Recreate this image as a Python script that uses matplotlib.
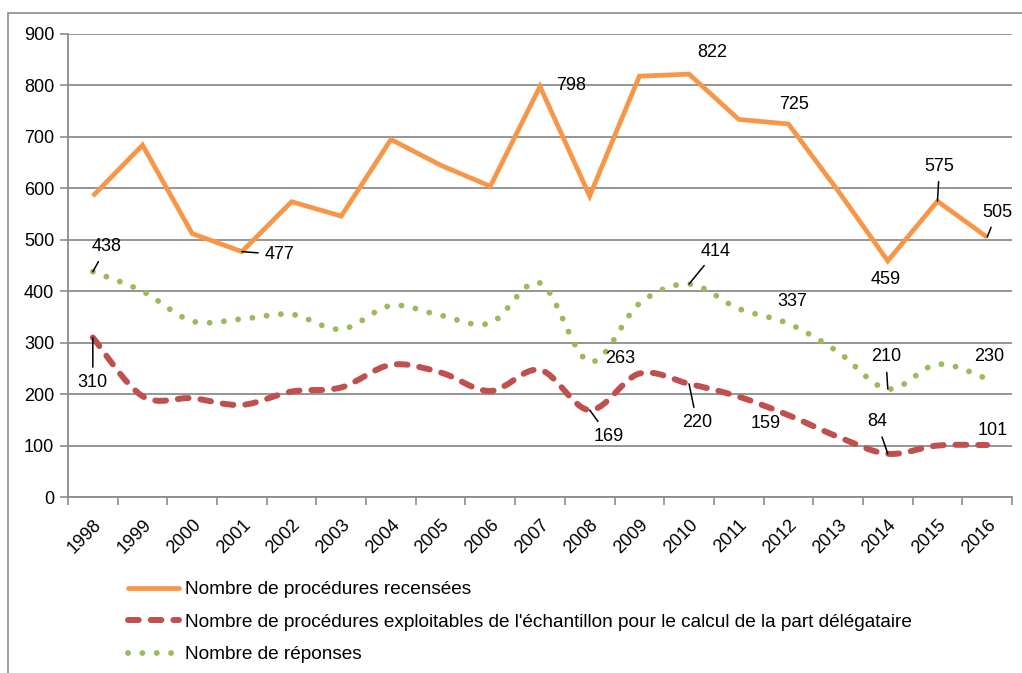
import matplotlib
matplotlib.use("Agg")
import matplotlib.pyplot as plt
import numpy as np
from matplotlib.lines import Line2D
from matplotlib.patches import PathPatch, Rectangle
from matplotlib.path import Path

plt.rcParams["font.family"] = ["Liberation Sans", "DejaVu Sans"]

years = [str(y) for y in range(1998, 2017)]
recensees = [585, 684, 512, 477, 574, 546, 695, 645, 604, 798,
             585, 818, 822, 734, 725, 595, 459, 575, 505]
exploitables = [310, 196, 192, 179, 205, 213, 257, 242, 206, 247,
                169, 240, 220, 195, 159, 117, 84, 100, 101]
reponses = [438, 400, 342, 346, 355, 326, 372, 353, 338, 416,
            263, 376, 414, 366, 337, 282, 210, 258, 230]

labels = ["Nombre de procédures recensées",
          "Nombre de procédures exploitables de l'échantillon pour le calcul de la part délégataire",
          "Nombre de réponses"]

C_OR = "#F79646"
C_RED = "#C0504D"
C_GRN = "#9BBB59"
GRID = "#8c8c8c"
FS = 13

# étiquettes : (index, décalage x, décalage y en pixels, trait de rappel)
lab_or = [(3, 38, -3, True), (9, 31, 1, False), (12, 23, 22, False),
          (14, 6, 20, False), (16, -2, -19, False), (17, 2, 35, True),
          (18, 10, 25, True)]
lab_grn = [(0, 14, 25, True), (10, 31, 3, False), (12, 27, 33, True),
           (14, 4, 22, False), (16, -2, 32, True), (18, 2, 22, False)]
lab_red = [(0, 0, -45, True), (10, 19, -26, True), (12, 8, -39, True),
           (14, -23, -8, False), (16, -11, 32, True), (18, 6, 15, False)]

ST_RED = dict(lw=4.3, ls=(0, (1.8, 2.0)))
ST_GRN = dict(lw=4.2, ls=(0, (0.01, 2.45)))


def smooth_path(xs, ys):
    # courbe lissée façon Excel (Bezier cubique)
    pts = np.column_stack([xs, ys]).astype(float)
    n = len(pts)
    verts = [pts[0]]
    codes = [Path.MOVETO]
    for i in range(n - 1):
        p0 = pts[i - 1] if i > 0 else pts[i]
        p1, p2 = pts[i], pts[i + 1]
        p3 = pts[i + 2] if i + 2 < n else pts[i + 1]
        verts += [p1 + (p2 - p0) / 6, p2 - (p3 - p1) / 6, p2]
        codes += [Path.CURVE4] * 3
    return Path(verts, codes)


fig = plt.figure(figsize=(10.22, 6.73), dpi=100)
ax = fig.add_axes([68 / 1022, 1 - 497 / 673, 944 / 1022, 463 / 673])

fig.patches.append(Rectangle((8 / 1022, -0.1), 1.2, 1 - 13 / 673 + 0.1,
                             transform=fig.transFigure, fill=False,
                             ec="#8c8c8c", lw=1.2))

x = np.arange(len(years))
ax.plot(x, recensees, color=C_OR, lw=3.4, solid_joinstyle="miter",
        solid_capstyle="butt", zorder=4)
ax.add_patch(PathPatch(smooth_path(x, exploitables), fill=False, ec=C_RED,
                       capstyle="round", zorder=3, **ST_RED))
ax.add_patch(PathPatch(smooth_path(x, reponses), fill=False, ec=C_GRN,
                       capstyle="round", zorder=3, **ST_GRN))

for vals, labs in ((recensees, lab_or), (reponses, lab_grn),
                   (exploitables, lab_red)):
    for i, dx, dy, lead in labs:
        ax.annotate(str(vals[i]), (x[i], vals[i]), xytext=(dx, dy),
                    textcoords="offset pixels", ha="center", va="center",
                    fontsize=FS, color="black", zorder=6,
                    arrowprops=dict(arrowstyle="-", color="black", lw=1.1,
                                    shrinkA=3, shrinkB=0) if lead else None)

ax.set_xlim(-0.5, len(years) - 0.5)
ax.set_ylim(0, 900)
ax.set_yticks(range(0, 901, 100))
ax.set_xticks(x)
ax.set_xticklabels(years, rotation=45, ha="right", rotation_mode="anchor")
ax.set_xticks(np.arange(-0.5, len(years)), minor=True)
ax.tick_params(axis="x", which="major", length=0, pad=14, labelsize=FS)
ax.tick_params(axis="x", which="minor", length=6, width=1.2, color=GRID)
ax.tick_params(axis="y", length=6, width=1.2, color=GRID, pad=4,
               labelsize=FS)
ax.grid(axis="y", color=GRID, lw=1.3)
ax.set_axisbelow(True)
for s in ("top", "right"):
    ax.spines[s].set_visible(False)
for s in ("left", "bottom"):
    ax.spines[s].set_color(GRID)
    ax.spines[s].set_linewidth(1.3)

handles = [
    Line2D([], [], color=C_OR, lw=3.4, solid_capstyle="round"),
    Line2D([], [], color=C_RED, dash_capstyle="round", **ST_RED),
    Line2D([], [], color=C_GRN, dash_capstyle="round", **ST_GRN),
]
fig.legend(handles, labels, loc="upper left",
           bbox_to_anchor=(128 / 1022, 1 - 581 / 673), frameon=False,
           fontsize=13.7, handlelength=2.7, handletextpad=0.28,
           labelspacing=0.8, borderaxespad=0, borderpad=0)

fig.savefig("out.png", dpi=100)
